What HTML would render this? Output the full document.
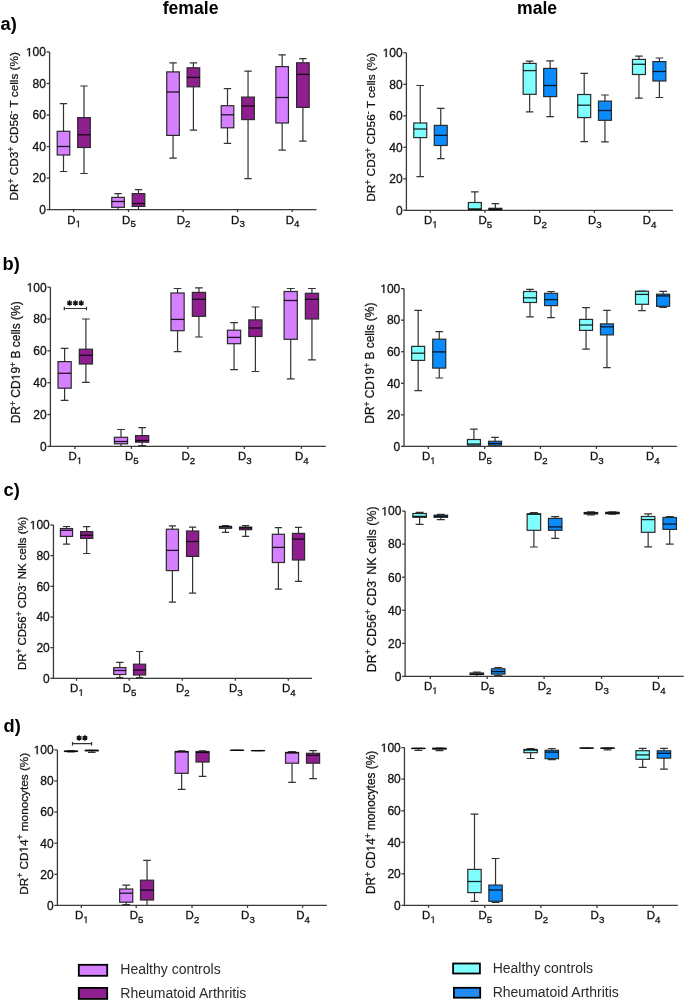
<!DOCTYPE html>
<html><head><meta charset="utf-8"><style>
html,body{margin:0;padding:0;background:#fff;}
body{width:685px;height:1001px;overflow:hidden;}
svg{display:block;}
text{font-family:"Liberation Sans",sans-serif;fill:#111;}
svg{will-change:transform;}
.ax{stroke:#3a3a3a;stroke-width:1.3;fill:none;}
.wk{stroke:#333;stroke-width:1.2;fill:none;}
.bx{stroke:#2a2a2a;stroke-width:1.2;}
.md{stroke:#000;stroke-opacity:0.85;stroke-width:1.3;fill:none;}
.tl{font-size:12px;text-anchor:end;stroke:#111;stroke-width:0.3px;}
.xl{font-size:11.5px;stroke:#111;stroke-width:0.3px;}
.sub{font-size:9.7px;}
.ast{stroke:#111;stroke-width:1.5;fill:none;}
.yl{text-anchor:middle;stroke:#111;stroke-width:0.25px;}
.sup{font-size:8.5px;}
.h1{fill-opacity:0;stroke-opacity:0;}
.ttl{font-size:17.6px;font-weight:bold;text-anchor:middle;fill:#000;}
.pl{font-size:18.3px;font-weight:bold;fill:#000;}
.lg{font-size:14px;fill:#2a2a2a;}
</style></head><body>
<svg width="685" height="1001" viewBox="0 0 685 1001">
<defs><pattern id="dots" width="4" height="4" patternUnits="userSpaceOnUse"><rect width="4" height="4" fill="#148cff"/><rect x="0" y="0" width="1" height="1" fill="#7d8c9c"/><rect x="2" y="2" width="1" height="1" fill="#7d8c9c"/></pattern><path id="one" d="M515 0V-1237L197 -1010V-1180L530 -1409H696V0Z" fill="#111" stroke="#111" stroke-width="50"/></defs>
<text x="190.6" y="14.2" class="ttl">female</text>
<text x="537.1" y="14.0" class="ttl">male</text>
<text x="0.5" y="30" class="pl">a)</text>
<text x="2.5" y="270" class="pl">b)</text>
<text x="3.5" y="496" class="pl">c)</text>
<text x="3.5" y="732" class="pl">d)</text>
<path d="M49.6 52V209.6H316.5" class="ax"/>
<path d="M46.6 209.6H49.6" class="ax"/>
<text x="45.9" y="213.9" class="tl">0</text>
<path d="M46.6 178.08H49.6" class="ax"/>
<text x="45.9" y="182.38" class="tl">20</text>
<path d="M46.6 146.56H49.6" class="ax"/>
<text x="45.9" y="150.86" class="tl">40</text>
<path d="M46.6 115.04H49.6" class="ax"/>
<text x="45.9" y="119.34" class="tl">60</text>
<path d="M46.6 83.52H49.6" class="ax"/>
<text x="45.9" y="87.82" class="tl">80</text>
<path d="M46.6 52H49.6" class="ax"/>
<use href="#one" transform="translate(25.88 56.3) scale(0.005859)"/>
<text x="45.9" y="56.3" class="tl">00</text>
<path d="M73.6 209.6V212.1" class="ax"/>
<text x="67.2" y="223.5" class="xl">D</text>
<use href="#one" transform="translate(75.51 227.3) scale(0.004736)"/>
<path d="M128.5 209.6V212.1" class="ax"/>
<text x="122.1" y="223.5" class="xl">D<tspan dy="3.8" class="sub">5</tspan></text>
<path d="M183.1 209.6V212.1" class="ax"/>
<text x="176.7" y="223.5" class="xl">D<tspan dy="3.8" class="sub">2</tspan></text>
<path d="M237.5 209.6V212.1" class="ax"/>
<text x="231.1" y="223.5" class="xl">D<tspan dy="3.8" class="sub">3</tspan></text>
<path d="M292.2 209.6V212.1" class="ax"/>
<text x="285.8" y="223.5" class="xl">D<tspan dy="3.8" class="sub">4</tspan></text>
<path d="M63.5 103.7V131.3M63.5 155V171.5M59.8 103.7H67.2M59.8 171.5H67.2" class="wk"/>
<rect x="57.2" y="131.3" width="12.6" height="23.7" fill="#D580FF" class="bx"/>
<path d="M57.2 146.5H69.8" class="md"/>
<path d="M84 86V117.6M84 147.5V173.5M80.3 86H87.7M80.3 173.5H87.7" class="wk"/>
<rect x="77.7" y="117.6" width="12.6" height="29.9" fill="#8F1F8F" class="bx"/>
<path d="M77.7 134.8H90.3" class="md"/>
<path d="M118.05 193.6V197.4M118.05 207.3V209.6M114.35 193.6H121.75" class="wk"/>
<rect x="111.75" y="197.4" width="12.6" height="9.9" fill="#D580FF" class="bx"/>
<path d="M111.75 201.5H124.35" class="md"/>
<path d="M138.5 189.6V193.6M138.5 206.4V209.6M134.8 189.6H142.2" class="wk"/>
<rect x="132.2" y="193.6" width="12.6" height="12.8" fill="#8F1F8F" class="bx"/>
<path d="M132.2 203.5H144.8" class="md"/>
<path d="M173.05 62.8V71.9M173.05 135.4V158.2M169.35 62.8H176.75M169.35 158.2H176.75" class="wk"/>
<rect x="166.75" y="71.9" width="12.6" height="63.5" fill="#D580FF" class="bx"/>
<path d="M166.75 92H179.35" class="md"/>
<path d="M193.4 62.8V67.8M193.4 86.8V130.1M189.7 62.8H197.1M189.7 130.1H197.1" class="wk"/>
<rect x="187.1" y="67.8" width="12.6" height="19" fill="#8F1F8F" class="bx"/>
<path d="M187.1 77.4H199.7" class="md"/>
<path d="M227.5 88.7V105.7M227.5 127.8V143.3M223.8 88.7H231.2M223.8 143.3H231.2" class="wk"/>
<rect x="221.2" y="105.7" width="12.6" height="22.1" fill="#D580FF" class="bx"/>
<path d="M221.2 114.8H233.8" class="md"/>
<path d="M248.05 71.1V97.1M248.05 119.6V178.6M244.35 71.1H251.75M244.35 178.6H251.75" class="wk"/>
<rect x="241.75" y="97.1" width="12.6" height="22.5" fill="#8F1F8F" class="bx"/>
<path d="M241.75 106H254.35" class="md"/>
<path d="M282.15 54.9V66.6M282.15 123V150.2M278.45 54.9H285.85M278.45 150.2H285.85" class="wk"/>
<rect x="275.85" y="66.6" width="12.6" height="56.4" fill="#D580FF" class="bx"/>
<path d="M275.85 97.5H288.45" class="md"/>
<path d="M302.9 58.7V62.8M302.9 107.4V141.2M299.2 58.7H306.6M299.2 141.2H306.6" class="wk"/>
<rect x="296.6" y="62.8" width="12.6" height="44.6" fill="#8F1F8F" class="bx"/>
<path d="M296.6 74.4H309.2" class="md"/>
<g transform="translate(18 126.31) rotate(-90)"><text class="yl" id="yl0" style="font-size:11.77px" xml:space="preserve"><tspan dy="0">DR</tspan><tspan dy="-4.4" class="sup">+</tspan><tspan dy="4.4"> CD3</tspan><tspan dy="-4.4" class="sup">+</tspan><tspan dy="4.4"> CD56</tspan><tspan dy="-4.4" class="sup">-</tspan><tspan dy="4.4"> T cells (%)</tspan></text></g>
<path d="M406.4 52.8V210.3H673" class="ax"/>
<path d="M403.4 210.3H406.4" class="ax"/>
<text x="402.7" y="214.6" class="tl">0</text>
<path d="M403.4 178.8H406.4" class="ax"/>
<text x="402.7" y="183.1" class="tl">20</text>
<path d="M403.4 147.3H406.4" class="ax"/>
<text x="402.7" y="151.6" class="tl">40</text>
<path d="M403.4 115.8H406.4" class="ax"/>
<text x="402.7" y="120.1" class="tl">60</text>
<path d="M403.4 84.3H406.4" class="ax"/>
<text x="402.7" y="88.6" class="tl">80</text>
<path d="M403.4 52.8H406.4" class="ax"/>
<use href="#one" transform="translate(382.68 57.1) scale(0.005859)"/>
<text x="402.7" y="57.1" class="tl">00</text>
<path d="M430.3 210.3V212.8" class="ax"/>
<text x="423.9" y="224.2" class="xl">D</text>
<use href="#one" transform="translate(432.21 228) scale(0.004736)"/>
<path d="M484.9 210.3V212.8" class="ax"/>
<text x="478.5" y="224.2" class="xl">D<tspan dy="3.8" class="sub">5</tspan></text>
<path d="M539.7 210.3V212.8" class="ax"/>
<text x="533.3" y="224.2" class="xl">D<tspan dy="3.8" class="sub">2</tspan></text>
<path d="M594.4 210.3V212.8" class="ax"/>
<text x="588" y="224.2" class="xl">D<tspan dy="3.8" class="sub">3</tspan></text>
<path d="M649.1 210.3V212.8" class="ax"/>
<text x="642.7" y="224.2" class="xl">D<tspan dy="3.8" class="sub">4</tspan></text>
<path d="M420.25 85.5V123M420.25 137.6V176.6M416.45 85.5H424.05M416.45 176.6H424.05" class="wk"/>
<rect x="413.77" y="123" width="12.96" height="14.6" fill="#80FFFF" class="bx"/>
<path d="M413.77 129H426.73" class="md"/>
<path d="M440.75 108.3V125.4M440.75 145.5V158.6M436.95 108.3H444.55M436.95 158.6H444.55" class="wk"/>
<rect x="434.27" y="125.4" width="12.96" height="20.1" fill="#0A8CFF" class="bx"/>
<path d="M434.27 135.3H447.23" class="md"/>
<path d="M474.85 191.9V202.5M474.85 209.6V210.3M471.05 191.9H478.65" class="wk"/>
<rect x="468.37" y="202.5" width="12.96" height="7.1" fill="#80FFFF" class="bx"/>
<path d="M468.37 208.9H481.33" class="md"/>
<path d="M495.35 203.6V208.3M495.35 209.8V210.3M491.55 203.6H499.15" class="wk"/>
<rect x="488.87" y="208.3" width="12.96" height="1.5" fill="#0A8CFF" class="bx"/>
<path d="M488.87 209.3H501.83" class="md"/>
<path d="M529.65 61.2V63.4M529.65 94.3V111.9M525.85 61.2H533.45M525.85 111.9H533.45" class="wk"/>
<rect x="523.17" y="63.4" width="12.96" height="30.9" fill="#80FFFF" class="bx"/>
<path d="M523.17 70.6H536.13" class="md"/>
<path d="M550.15 60.9V68.4M550.15 96.6V116.7M546.35 60.9H553.95M546.35 116.7H553.95" class="wk"/>
<rect x="543.67" y="68.4" width="12.96" height="28.2" fill="#0A8CFF" class="bx"/>
<path d="M543.67 85.5H556.63" class="md"/>
<path d="M584.2 73.3V94.5M584.2 117.6V141.6M580.4 73.3H588M580.4 141.6H588" class="wk"/>
<rect x="577.72" y="94.5" width="12.96" height="23.1" fill="#80FFFF" class="bx"/>
<path d="M577.72 105.2H590.68" class="md"/>
<path d="M604.95 95V101.1M604.95 120.3V141.9M601.15 95H608.75M601.15 141.9H608.75" class="wk"/>
<rect x="598.47" y="101.1" width="12.96" height="19.2" fill="#0A8CFF" class="bx"/>
<path d="M598.47 110.5H611.43" class="md"/>
<path d="M638.95 56.2V59.4M638.95 74.5V98.1M635.15 56.2H642.75M635.15 98.1H642.75" class="wk"/>
<rect x="632.47" y="59.4" width="12.96" height="15.1" fill="#80FFFF" class="bx"/>
<path d="M632.47 64.3H645.43" class="md"/>
<path d="M659.4 58V61.6M659.4 81V97.5M655.6 58H663.2M655.6 97.5H663.2" class="wk"/>
<rect x="652.92" y="61.6" width="12.96" height="19.4" fill="#0A8CFF" class="bx"/>
<path d="M652.92 71.5H665.88" class="md"/>
<g transform="translate(374.9 127.23) rotate(-90)"><text class="yl" id="yl1" style="font-size:11.84px" xml:space="preserve"><tspan dy="0">DR</tspan><tspan dy="-4.4" class="sup">+</tspan><tspan dy="4.4"> CD3</tspan><tspan dy="-4.4" class="sup">+</tspan><tspan dy="4.4"> CD56</tspan><tspan dy="-4.4" class="sup">-</tspan><tspan dy="4.4"> T cells (%)</tspan></text></g>
<path d="M50.4 287.2V446.4H325.8" class="ax"/>
<path d="M47.4 446.4H50.4" class="ax"/>
<text x="46.7" y="450.7" class="tl">0</text>
<path d="M47.4 414.56H50.4" class="ax"/>
<text x="46.7" y="418.86" class="tl">20</text>
<path d="M47.4 382.72H50.4" class="ax"/>
<text x="46.7" y="387.02" class="tl">40</text>
<path d="M47.4 350.88H50.4" class="ax"/>
<text x="46.7" y="355.18" class="tl">60</text>
<path d="M47.4 319.04H50.4" class="ax"/>
<text x="46.7" y="323.34" class="tl">80</text>
<path d="M47.4 287.2H50.4" class="ax"/>
<use href="#one" transform="translate(26.68 291.5) scale(0.005859)"/>
<text x="46.7" y="291.5" class="tl">00</text>
<path d="M74.9 446.4V448.9" class="ax"/>
<text x="68.5" y="460.3" class="xl">D</text>
<use href="#one" transform="translate(76.81 464.1) scale(0.004736)"/>
<path d="M131.4 446.4V448.9" class="ax"/>
<text x="125" y="460.3" class="xl">D<tspan dy="3.8" class="sub">5</tspan></text>
<path d="M187.9 446.4V448.9" class="ax"/>
<text x="181.5" y="460.3" class="xl">D<tspan dy="3.8" class="sub">2</tspan></text>
<path d="M244.3 446.4V448.9" class="ax"/>
<text x="237.9" y="460.3" class="xl">D<tspan dy="3.8" class="sub">3</tspan></text>
<path d="M301.4 446.4V448.9" class="ax"/>
<text x="295" y="460.3" class="xl">D<tspan dy="3.8" class="sub">4</tspan></text>
<path d="M64.6 348.3V361.6M64.6 388.2V400.3M60.73 348.3H68.47M60.73 400.3H68.47" class="wk"/>
<rect x="58" y="361.6" width="13.2" height="26.6" fill="#D580FF" class="bx"/>
<path d="M58 373.3H71.2" class="md"/>
<path d="M85.9 319V349.2M85.9 364V382.3M82.03 319H89.77M82.03 382.3H89.77" class="wk"/>
<rect x="79.3" y="349.2" width="13.2" height="14.8" fill="#8F1F8F" class="bx"/>
<path d="M79.3 355.3H92.5" class="md"/>
<path d="M121 429.5V437.3M121 443.8V446.4M117.13 429.5H124.87" class="wk"/>
<rect x="114.4" y="437.3" width="13.2" height="6.5" fill="#D580FF" class="bx"/>
<path d="M114.4 441.5H127.6" class="md"/>
<path d="M142.15 427.6V435.6M142.15 442.2V445.7M138.28 427.6H146.02M138.28 445.7H146.02" class="wk"/>
<rect x="135.55" y="435.6" width="13.2" height="6.6" fill="#8F1F8F" class="bx"/>
<path d="M135.55 440.5H148.75" class="md"/>
<path d="M177.55 288.5V293M177.55 330.7V351.7M173.68 288.5H181.42M173.68 351.7H181.42" class="wk"/>
<rect x="170.95" y="293" width="13.2" height="37.7" fill="#D580FF" class="bx"/>
<path d="M170.95 319.4H184.15" class="md"/>
<path d="M198.95 287.9V292.4M198.95 316.3V337M195.08 287.9H202.82M195.08 337H202.82" class="wk"/>
<rect x="192.35" y="292.4" width="13.2" height="23.9" fill="#8F1F8F" class="bx"/>
<path d="M192.35 299.3H205.55" class="md"/>
<path d="M234.05 322.6V330.2M234.05 343.7V369.7M230.18 322.6H237.92M230.18 369.7H237.92" class="wk"/>
<rect x="227.45" y="330.2" width="13.2" height="13.5" fill="#D580FF" class="bx"/>
<path d="M227.45 337.4H240.65" class="md"/>
<path d="M255.4 307V319.9M255.4 336.5V371.5M251.53 307H259.27M251.53 371.5H259.27" class="wk"/>
<rect x="248.8" y="319.9" width="13.2" height="16.6" fill="#8F1F8F" class="bx"/>
<path d="M248.8 328H262" class="md"/>
<path d="M290.7 288.5V291.5M290.7 339.3V378.9M286.83 288.5H294.57M286.83 378.9H294.57" class="wk"/>
<rect x="284.1" y="291.5" width="13.2" height="47.8" fill="#D580FF" class="bx"/>
<path d="M284.1 300.5H297.3" class="md"/>
<path d="M311.95 288.5V293.3M311.95 319V359.8M308.08 288.5H315.82M308.08 359.8H315.82" class="wk"/>
<rect x="305.35" y="293.3" width="13.2" height="25.7" fill="#8F1F8F" class="bx"/>
<path d="M305.35 299.3H318.55" class="md"/>
<path d="M64.3 306.7V310.3M64.3 308.5H86.5M86.5 306.7V310.3" class="wk"/>
<path d="M69.55 300.25V305.75M67.17 301.62L71.93 304.38M67.17 304.38L71.93 301.62" class="ast"/>
<path d="M75.45 300.25V305.75M73.07 301.62L77.83 304.38M73.07 304.38L77.83 301.62" class="ast"/>
<path d="M81.25 300.25V305.75M78.87 301.62L83.63 304.38M78.87 304.38L83.63 301.62" class="ast"/>
<g transform="translate(19.9 362.25) rotate(-90)"><text class="yl" id="yl2" style="font-size:12.03px" xml:space="preserve"><tspan dy="0">DR</tspan><tspan dy="-4.4" class="sup">+</tspan><tspan dy="4.4"> CD<tspan class="h1">1</tspan>9</tspan><tspan dy="-4.4" class="sup">+</tspan><tspan dy="4.4"> B cells (%)</tspan></text><use href="#one" transform="translate(-18.04 0.00) scale(0.005874)"/></g>
<path d="M404 288.6V446.4H677" class="ax"/>
<path d="M401 446.4H404" class="ax"/>
<text x="400.3" y="450.7" class="tl">0</text>
<path d="M401 414.84H404" class="ax"/>
<text x="400.3" y="419.14" class="tl">20</text>
<path d="M401 383.28H404" class="ax"/>
<text x="400.3" y="387.58" class="tl">40</text>
<path d="M401 351.72H404" class="ax"/>
<text x="400.3" y="356.02" class="tl">60</text>
<path d="M401 320.16H404" class="ax"/>
<text x="400.3" y="324.46" class="tl">80</text>
<path d="M401 288.6H404" class="ax"/>
<use href="#one" transform="translate(380.28 292.9) scale(0.005859)"/>
<text x="400.3" y="292.9" class="tl">00</text>
<path d="M428.3 446.4V448.9" class="ax"/>
<text x="421.9" y="460.3" class="xl">D</text>
<use href="#one" transform="translate(430.21 464.1) scale(0.004736)"/>
<path d="M484.7 446.4V448.9" class="ax"/>
<text x="478.3" y="460.3" class="xl">D<tspan dy="3.8" class="sub">5</tspan></text>
<path d="M540.4 446.4V448.9" class="ax"/>
<text x="534" y="460.3" class="xl">D<tspan dy="3.8" class="sub">2</tspan></text>
<path d="M596.4 446.4V448.9" class="ax"/>
<text x="590" y="460.3" class="xl">D<tspan dy="3.8" class="sub">3</tspan></text>
<path d="M652.3 446.4V448.9" class="ax"/>
<text x="645.9" y="460.3" class="xl">D<tspan dy="3.8" class="sub">4</tspan></text>
<path d="M418.15 310.4V346.4M418.15 360.4V390.6M414.33 310.4H421.97M414.33 390.6H421.97" class="wk"/>
<rect x="411.65" y="346.4" width="13" height="14" fill="#80FFFF" class="bx"/>
<path d="M411.65 353.2H424.65" class="md"/>
<path d="M439.25 331.6V339.2M439.25 368.1V378M435.43 331.6H443.07M435.43 378H443.07" class="wk"/>
<rect x="432.75" y="339.2" width="13" height="28.9" fill="#0A8CFF" class="bx"/>
<path d="M432.75 351.9H445.75" class="md"/>
<path d="M473.95 429.2V439.5M473.95 445.2V446.3M470.13 429.2H477.77" class="wk"/>
<rect x="467.45" y="439.5" width="13" height="5.7" fill="#80FFFF" class="bx"/>
<path d="M467.45 444H480.45" class="md"/>
<path d="M495.05 437.3V441.3M495.05 445.2V446.3M491.23 437.3H498.87" class="wk"/>
<rect x="488.55" y="441.3" width="13" height="3.9" fill="#0A8CFF" class="bx"/>
<path d="M488.55 443.5H501.55" class="md"/>
<path d="M530 289.4V291.5M530 302.5V316.9M526.18 289.4H533.82M526.18 316.9H533.82" class="wk"/>
<rect x="523.5" y="291.5" width="13" height="11" fill="#80FFFF" class="bx"/>
<path d="M523.5 297.8H536.5" class="md"/>
<path d="M551.05 291.5V293.3M551.05 305.6V317.6M547.23 291.5H554.87M547.23 317.6H554.87" class="wk"/>
<rect x="544.55" y="293.3" width="13" height="12.3" fill="#0A8CFF" class="bx"/>
<path d="M544.55 299.6H557.55" class="md"/>
<path d="M586.05 307.7V319.4M586.05 330.4V349.1M582.23 307.7H589.87M582.23 349.1H589.87" class="wk"/>
<rect x="579.55" y="319.4" width="13" height="11" fill="#80FFFF" class="bx"/>
<path d="M579.55 325H592.55" class="md"/>
<path d="M606.95 310.4V323.9M606.95 334.9V367.6M603.13 310.4H610.77M603.13 367.6H610.77" class="wk"/>
<rect x="600.45" y="323.9" width="13" height="11" fill="#0A8CFF" class="bx"/>
<path d="M600.45 326.8H613.45" class="md"/>
<path d="M642 291V291.3M642 304.3V310.6M638.18 291H645.82M638.18 310.6H645.82" class="wk"/>
<rect x="635.5" y="291.3" width="13" height="13" fill="#80FFFF" class="bx"/>
<path d="M635.5 294.4H648.5" class="md"/>
<path d="M663.1 291.4V294.2M663.1 306.3V307.3M659.28 291.4H666.92M659.28 307.3H666.92" class="wk"/>
<rect x="656.6" y="294.2" width="13" height="12.1" fill="#0A8CFF" class="bx"/>
<path d="M656.6 295.9H669.6" class="md"/>
<g transform="translate(373.9 363.16) rotate(-90)"><text class="yl" id="yl3" style="font-size:11.91px" xml:space="preserve"><tspan dy="0">DR</tspan><tspan dy="-4.4" class="sup">+</tspan><tspan dy="4.4"> CD<tspan class="h1">1</tspan>9</tspan><tspan dy="-4.4" class="sup">+</tspan><tspan dy="4.4"> B cells (%)</tspan></text><use href="#one" transform="translate(-17.87 0.00) scale(0.005815)"/></g>
<path d="M53.45 525V678.3H312" class="ax"/>
<path d="M50.45 678.3H53.45" class="ax"/>
<text x="49.75" y="682.6" class="tl">0</text>
<path d="M50.45 647.64H53.45" class="ax"/>
<text x="49.75" y="651.94" class="tl">20</text>
<path d="M50.45 616.98H53.45" class="ax"/>
<text x="49.75" y="621.28" class="tl">40</text>
<path d="M50.45 586.32H53.45" class="ax"/>
<text x="49.75" y="590.62" class="tl">60</text>
<path d="M50.45 555.66H53.45" class="ax"/>
<text x="49.75" y="559.96" class="tl">80</text>
<path d="M50.45 525H53.45" class="ax"/>
<use href="#one" transform="translate(29.73 529.3) scale(0.005859)"/>
<text x="49.75" y="529.3" class="tl">00</text>
<path d="M76.5 678.3V680.8" class="ax"/>
<text x="70.1" y="692.2" class="xl">D</text>
<use href="#one" transform="translate(78.41 696) scale(0.004736)"/>
<path d="M129.1 678.3V680.8" class="ax"/>
<text x="122.7" y="692.2" class="xl">D<tspan dy="3.8" class="sub">5</tspan></text>
<path d="M182.3 678.3V680.8" class="ax"/>
<text x="175.9" y="692.2" class="xl">D<tspan dy="3.8" class="sub">2</tspan></text>
<path d="M235.3 678.3V680.8" class="ax"/>
<text x="228.9" y="692.2" class="xl">D<tspan dy="3.8" class="sub">3</tspan></text>
<path d="M288.3 678.3V680.8" class="ax"/>
<text x="281.9" y="692.2" class="xl">D<tspan dy="3.8" class="sub">4</tspan></text>
<path d="M66.5 526.5V528.5M66.5 536.4V544.2M62.93 526.5H70.07M62.93 544.2H70.07" class="wk"/>
<rect x="60.42" y="528.5" width="12.15" height="7.9" fill="#D580FF" class="bx"/>
<path d="M60.42 530.3H72.58" class="md"/>
<path d="M86.7 526.7V531.6M86.7 538.4V553.5M83.13 526.7H90.27M83.13 553.5H90.27" class="wk"/>
<rect x="80.62" y="531.6" width="12.15" height="6.8" fill="#8F1F8F" class="bx"/>
<path d="M80.62 535.2H92.78" class="md"/>
<path d="M119.8 662.4V667.6M119.8 674.5V677.5M116.23 662.4H123.37M116.23 677.5H123.37" class="wk"/>
<rect x="113.72" y="667.6" width="12.15" height="6.9" fill="#D580FF" class="bx"/>
<path d="M113.72 670.5H125.88" class="md"/>
<path d="M139.55 651.5V664.2M139.55 675V677.5M135.98 651.5H143.12M135.98 677.5H143.12" class="wk"/>
<rect x="133.48" y="664.2" width="12.15" height="10.8" fill="#8F1F8F" class="bx"/>
<path d="M133.48 670H145.62" class="md"/>
<path d="M172.4 525.8V529.2M172.4 570.6V602.2M168.83 525.8H175.97M168.83 602.2H175.97" class="wk"/>
<rect x="166.33" y="529.2" width="12.15" height="41.4" fill="#D580FF" class="bx"/>
<path d="M166.33 550.4H178.47" class="md"/>
<path d="M192.6 527.1V531M192.6 556.4V593.2M189.03 527.1H196.17M189.03 593.2H196.17" class="wk"/>
<rect x="186.53" y="531" width="12.15" height="25.4" fill="#8F1F8F" class="bx"/>
<path d="M186.53 541.5H198.67" class="md"/>
<path d="M225.5 525.6V526.4M225.5 528.3V532.3M221.93 525.6H229.07M221.93 532.3H229.07" class="wk"/>
<rect x="219.43" y="526.4" width="12.15" height="1.9" fill="#D580FF" class="bx"/>
<path d="M219.43 527H231.57" class="md"/>
<path d="M245.6 525.6V527.1M245.6 529.7V536.4M242.03 525.6H249.17M242.03 536.4H249.17" class="wk"/>
<rect x="239.53" y="527.1" width="12.15" height="2.6" fill="#8F1F8F" class="bx"/>
<path d="M239.53 527.9H251.67" class="md"/>
<path d="M278.4 527.6V534.3M278.4 562.5V589.1M274.83 527.6H281.97M274.83 589.1H281.97" class="wk"/>
<rect x="272.32" y="534.3" width="12.15" height="28.2" fill="#D580FF" class="bx"/>
<path d="M272.32 547.4H284.47" class="md"/>
<path d="M298.5 527.4V533.4M298.5 560V581.4M294.93 527.4H302.07M294.93 581.4H302.07" class="wk"/>
<rect x="292.43" y="533.4" width="12.15" height="26.6" fill="#8F1F8F" class="bx"/>
<path d="M292.43 539.1H304.57" class="md"/>
<g transform="translate(25.9 593.34) rotate(-90)"><text class="yl" id="yl4" style="font-size:11.42px" xml:space="preserve"><tspan dy="0">DR</tspan><tspan dy="-4.4" class="sup">+</tspan><tspan dy="4.4"> CD56</tspan><tspan dy="-4.4" class="sup">+</tspan><tspan dy="4.4"> CD3</tspan><tspan dy="-4.4" class="sup">-</tspan><tspan dy="4.4"> NK cells (%)</tspan></text></g>
<path d="M405.1 511.1V676.4H683.7" class="ax"/>
<path d="M402.1 676.4H405.1" class="ax"/>
<text x="401.4" y="680.7" class="tl">0</text>
<path d="M402.1 643.34H405.1" class="ax"/>
<text x="401.4" y="647.64" class="tl">20</text>
<path d="M402.1 610.28H405.1" class="ax"/>
<text x="401.4" y="614.58" class="tl">40</text>
<path d="M402.1 577.22H405.1" class="ax"/>
<text x="401.4" y="581.52" class="tl">60</text>
<path d="M402.1 544.16H405.1" class="ax"/>
<text x="401.4" y="548.46" class="tl">80</text>
<path d="M402.1 511.1H405.1" class="ax"/>
<use href="#one" transform="translate(381.38 515.4) scale(0.005859)"/>
<text x="401.4" y="515.4" class="tl">00</text>
<path d="M430.3 676.4V678.9" class="ax"/>
<text x="423.9" y="690.3" class="xl">D</text>
<use href="#one" transform="translate(432.21 694.1) scale(0.004736)"/>
<path d="M487.2 676.4V678.9" class="ax"/>
<text x="480.8" y="690.3" class="xl">D<tspan dy="3.8" class="sub">5</tspan></text>
<path d="M544.1 676.4V678.9" class="ax"/>
<text x="537.7" y="690.3" class="xl">D<tspan dy="3.8" class="sub">2</tspan></text>
<path d="M601.5 676.4V678.9" class="ax"/>
<text x="595.1" y="690.3" class="xl">D<tspan dy="3.8" class="sub">3</tspan></text>
<path d="M658.4 676.4V678.9" class="ax"/>
<text x="652" y="690.3" class="xl">D<tspan dy="3.8" class="sub">4</tspan></text>
<path d="M419.6 512.4V513.5M419.6 517.3V524.3M415.64 512.4H423.56M415.64 524.3H423.56" class="wk"/>
<rect x="412.85" y="513.5" width="13.5" height="3.8" fill="#80FFFF" class="bx"/>
<path d="M412.85 516.4H426.35" class="md"/>
<path d="M440.8 514.3V515.2M440.8 517.3V519.6M436.84 514.3H444.76M436.84 519.6H444.76" class="wk"/>
<rect x="434.05" y="515.2" width="13.5" height="2.1" fill="#0A8CFF" class="bx"/>
<path d="M434.05 516.3H447.55" class="md"/>
<path d="M476.8 672.2V673M476.8 674.5V676M472.84 672.2H480.76" class="wk"/>
<rect x="470.05" y="673" width="13.5" height="1.5" fill="#80FFFF" class="bx"/>
<path d="M470.05 674H483.55" class="md"/>
<path d="M498.2 667.5V668.8M498.2 674.1V675.6M494.24 667.5H502.16M494.24 675.6H502.16" class="wk"/>
<rect x="491.45" y="668.8" width="13.5" height="5.3" fill="#0A8CFF" class="bx"/>
<path d="M491.45 671.6H504.95" class="md"/>
<path d="M533.9 512.7V513.8M533.9 530.3V547M529.94 512.7H537.86M529.94 547H537.86" class="wk"/>
<rect x="527.15" y="513.8" width="13.5" height="16.5" fill="#80FFFF" class="bx"/>
<path d="M527.15 514.2H540.65" class="md"/>
<path d="M555.2 516.7V518.4M555.2 530.3V538.3M551.24 516.7H559.16M551.24 538.3H559.16" class="wk"/>
<rect x="548.45" y="518.4" width="13.5" height="11.9" fill="#0A8CFF" class="bx"/>
<path d="M548.45 526.9H561.95" class="md"/>
<path d="M590.9 511.8V512.5M590.9 514V514.8M586.94 511.8H594.86M586.94 514.8H594.86" class="wk"/>
<rect x="584.15" y="512.5" width="13.5" height="1.5" fill="#80FFFF" class="bx"/>
<path d="M584.15 513.2H597.65" class="md"/>
<path d="M612.45 511.8V512.3M612.45 513.7V514.2M608.49 511.8H616.41M608.49 514.2H616.41" class="wk"/>
<rect x="605.7" y="512.3" width="13.5" height="1.4" fill="#0A8CFF" class="bx"/>
<path d="M605.7 513H619.2" class="md"/>
<path d="M648.15 513.9V516.5M648.15 532.3V546.9M644.19 513.9H652.11M644.19 546.9H652.11" class="wk"/>
<rect x="641.4" y="516.5" width="13.5" height="15.8" fill="#80FFFF" class="bx"/>
<path d="M641.4 519.6H654.9" class="md"/>
<path d="M669.7 516.5V517.5M669.7 529.4V544.2M665.74 516.5H673.66M665.74 544.2H673.66" class="wk"/>
<rect x="662.95" y="517.5" width="13.5" height="11.9" fill="#0A8CFF" class="bx"/>
<path d="M662.95 524.1H676.45" class="md"/>
<g transform="translate(375.7 589.35) rotate(-90)"><text class="yl" id="yl5" style="font-size:12.42px" xml:space="preserve"><tspan dy="0">DR</tspan><tspan dy="-4.4" class="sup">+</tspan><tspan dy="4.4"> CD56</tspan><tspan dy="-4.4" class="sup">+</tspan><tspan dy="4.4"> CD3</tspan><tspan dy="-4.4" class="sup">-</tspan><tspan dy="4.4"> NK cells (%)</tspan></text></g>
<path d="M57.4 749.9V905.4H326.9" class="ax"/>
<path d="M54.4 905.4H57.4" class="ax"/>
<text x="53.7" y="909.7" class="tl">0</text>
<path d="M54.4 874.3H57.4" class="ax"/>
<text x="53.7" y="878.6" class="tl">20</text>
<path d="M54.4 843.2H57.4" class="ax"/>
<text x="53.7" y="847.5" class="tl">40</text>
<path d="M54.4 812.1H57.4" class="ax"/>
<text x="53.7" y="816.4" class="tl">60</text>
<path d="M54.4 781H57.4" class="ax"/>
<text x="53.7" y="785.3" class="tl">80</text>
<path d="M54.4 749.9H57.4" class="ax"/>
<use href="#one" transform="translate(33.68 754.2) scale(0.005859)"/>
<text x="53.7" y="754.2" class="tl">00</text>
<path d="M81.3 905.4V907.9" class="ax"/>
<text x="74.9" y="919.3" class="xl">D</text>
<use href="#one" transform="translate(83.21 923.1) scale(0.004736)"/>
<path d="M136.2 905.4V907.9" class="ax"/>
<text x="129.8" y="919.3" class="xl">D<tspan dy="3.8" class="sub">5</tspan></text>
<path d="M192 905.4V907.9" class="ax"/>
<text x="185.6" y="919.3" class="xl">D<tspan dy="3.8" class="sub">2</tspan></text>
<path d="M247.5 905.4V907.9" class="ax"/>
<text x="241.1" y="919.3" class="xl">D<tspan dy="3.8" class="sub">3</tspan></text>
<path d="M302.6 905.4V907.9" class="ax"/>
<text x="296.2" y="919.3" class="xl">D<tspan dy="3.8" class="sub">4</tspan></text>
<path d="M71 750.7V751.1M71 751.5V752M67.16 750.7H74.84M67.16 752H74.84" class="wk"/>
<rect x="64.45" y="751.1" width="13.1" height="0.4" fill="#D580FF" class="bx"/>
<path d="M64.45 751.3H77.55" class="md"/>
<path d="M91.75 750.8V752.4M87.91 750.3H95.59M87.91 752.4H95.59" class="wk"/>
<rect x="85.2" y="750.3" width="13.1" height="0.5" fill="#8F1F8F" class="bx"/>
<path d="M85.2 750.5H98.3" class="md"/>
<path d="M126.2 885.1V889M126.2 902.2V904.5M122.36 885.1H130.04M122.36 904.5H130.04" class="wk"/>
<rect x="119.65" y="889" width="13.1" height="13.2" fill="#D580FF" class="bx"/>
<path d="M119.65 893.2H132.75" class="md"/>
<path d="M147.05 860.3V880.2M147.05 900V905M143.21 860.3H150.89" class="wk"/>
<rect x="140.5" y="880.2" width="13.1" height="19.8" fill="#8F1F8F" class="bx"/>
<path d="M140.5 890.1H153.6" class="md"/>
<path d="M181.65 750.8V751.5M181.65 773.3V789.3M177.81 750.8H185.49M177.81 789.3H185.49" class="wk"/>
<rect x="175.1" y="751.5" width="13.1" height="21.8" fill="#D580FF" class="bx"/>
<path d="M175.1 752H188.2" class="md"/>
<path d="M202.55 750.8V751.5M202.55 762V776.3M198.71 750.8H206.39M198.71 776.3H206.39" class="wk"/>
<rect x="196" y="751.5" width="13.1" height="10.5" fill="#8F1F8F" class="bx"/>
<path d="M196 752.5H209.1" class="md"/>
<path d="M233.16 750.3H240.84M233.16 750.3H240.84" class="wk"/>
<rect x="230.45" y="750.3" width="13.1" height="0.01" fill="#D580FF" class="bx"/>
<path d="M230.45 750.3H243.55" class="md"/>
<path d="M254.11 750.6H261.79M254.11 750.6H261.79" class="wk"/>
<rect x="251.4" y="750.6" width="13.1" height="0.01" fill="#8F1F8F" class="bx"/>
<path d="M251.4 750.6H264.5" class="md"/>
<path d="M292.05 751.5V752.4M292.05 763.2V782.3M288.21 751.5H295.89M288.21 782.3H295.89" class="wk"/>
<rect x="285.5" y="752.4" width="13.1" height="10.8" fill="#D580FF" class="bx"/>
<path d="M285.5 753H298.6" class="md"/>
<path d="M313.05 750.6V753.3M313.05 763.2V778.7M309.21 750.6H316.89M309.21 778.7H316.89" class="wk"/>
<rect x="306.5" y="753.3" width="13.1" height="9.9" fill="#8F1F8F" class="bx"/>
<path d="M306.5 755.3H319.6" class="md"/>
<path d="M72.5 741.9V745.5M72.5 743.7H91.6M91.6 741.9V745.5" class="wk"/>
<path d="M79.1 735.15V740.65M76.72 736.52L81.48 739.27M76.72 739.27L81.48 736.52" class="ast"/>
<path d="M84.9 735.15V740.65M82.52 736.52L87.28 739.27M82.52 739.27L87.28 736.52" class="ast"/>
<g transform="translate(27.8 823.78) rotate(-90)"><text class="yl" id="yl6" style="font-size:11.75px" xml:space="preserve"><tspan dy="0">DR</tspan><tspan dy="-4.4" class="sup">+</tspan><tspan dy="4.4"> CD<tspan class="h1">1</tspan>4</tspan><tspan dy="-4.4" class="sup">+</tspan><tspan dy="4.4"> monocytes (%)</tspan></text><use href="#one" transform="translate(-28.74 0.00) scale(0.005737)"/></g>
<path d="M404.45 747.6V905.4H677.8" class="ax"/>
<path d="M401.45 905.4H404.45" class="ax"/>
<text x="400.75" y="909.7" class="tl">0</text>
<path d="M401.45 873.84H404.45" class="ax"/>
<text x="400.75" y="878.14" class="tl">20</text>
<path d="M401.45 842.28H404.45" class="ax"/>
<text x="400.75" y="846.58" class="tl">40</text>
<path d="M401.45 810.72H404.45" class="ax"/>
<text x="400.75" y="815.02" class="tl">60</text>
<path d="M401.45 779.16H404.45" class="ax"/>
<text x="400.75" y="783.46" class="tl">80</text>
<path d="M401.45 747.6H404.45" class="ax"/>
<use href="#one" transform="translate(380.73 751.9) scale(0.005859)"/>
<text x="400.75" y="751.9" class="tl">00</text>
<path d="M428.5 905.4V907.9" class="ax"/>
<text x="422.1" y="919.3" class="xl">D</text>
<use href="#one" transform="translate(430.41 923.1) scale(0.004736)"/>
<path d="M484.8 905.4V907.9" class="ax"/>
<text x="478.4" y="919.3" class="xl">D<tspan dy="3.8" class="sub">5</tspan></text>
<path d="M540.9 905.4V907.9" class="ax"/>
<text x="534.5" y="919.3" class="xl">D<tspan dy="3.8" class="sub">2</tspan></text>
<path d="M597 905.4V907.9" class="ax"/>
<text x="590.6" y="919.3" class="xl">D<tspan dy="3.8" class="sub">3</tspan></text>
<path d="M653.2 905.4V907.9" class="ax"/>
<text x="646.8" y="919.3" class="xl">D<tspan dy="3.8" class="sub">4</tspan></text>
<path d="M418.35 748.5V750.4M414.42 748.4H422.28M414.42 750.4H422.28" class="wk"/>
<rect x="411.65" y="748.4" width="13.4" height="0.1" fill="#80FFFF" class="bx"/>
<path d="M411.65 748.4H425.05" class="md"/>
<path d="M439.45 749.1V750.6M435.52 748.1H443.38M435.52 750.6H443.38" class="wk"/>
<rect x="432.75" y="748.2" width="13.4" height="0.9" fill="#0A8CFF" class="bx"/>
<path d="M432.75 748.6H446.15" class="md"/>
<path d="M474.5 814.1V869.4M474.5 892.6V901.3M470.57 814.1H478.43M470.57 901.3H478.43" class="wk"/>
<rect x="467.8" y="869.4" width="13.4" height="23.2" fill="#80FFFF" class="bx"/>
<path d="M467.8 881.5H481.2" class="md"/>
<path d="M495.55 858.5V885.1M495.55 901.3V902.5M491.62 858.5H499.48M491.62 902.5H499.48" class="wk"/>
<rect x="488.85" y="885.1" width="13.4" height="16.2" fill="#0A8CFF" class="bx"/>
<path d="M488.85 890H502.25" class="md"/>
<path d="M530.6 748.5V749.5M530.6 752.7V758.5M526.67 748.5H534.53M526.67 758.5H534.53" class="wk"/>
<rect x="523.9" y="749.5" width="13.4" height="3.2" fill="#80FFFF" class="bx"/>
<path d="M523.9 750.1H537.3" class="md"/>
<path d="M551.8 748.5V750.3M551.8 758.7V759.6M547.87 748.5H555.73M547.87 759.6H555.73" class="wk"/>
<rect x="545.1" y="750.3" width="13.4" height="8.4" fill="#0A8CFF" class="bx"/>
<path d="M545.1 752.1H558.5" class="md"/>
<path d="M582.72 748.1H590.58M582.72 748.1H590.58" class="wk"/>
<rect x="579.95" y="748.1" width="13.4" height="0.01" fill="#80FFFF" class="bx"/>
<path d="M579.95 748.1H593.35" class="md"/>
<path d="M607.55 748.3V749.9M603.62 748.1H611.48M603.62 749.9H611.48" class="wk"/>
<rect x="600.85" y="748.1" width="13.4" height="0.2" fill="#0A8CFF" class="bx"/>
<path d="M600.85 748.2H614.25" class="md"/>
<path d="M642.65 748.4V750.7M642.65 759.3V767.3M638.72 748.4H646.58M638.72 767.3H646.58" class="wk"/>
<rect x="635.95" y="750.7" width="13.4" height="8.6" fill="#80FFFF" class="bx"/>
<path d="M635.95 754.9H649.35" class="md"/>
<path d="M663.95 748.4V750.8M663.95 758.1V769.1M660.02 748.4H667.88M660.02 769.1H667.88" class="wk"/>
<rect x="657.25" y="750.8" width="13.4" height="7.3" fill="#0A8CFF" class="bx"/>
<path d="M657.25 753.3H670.65" class="md"/>
<g transform="translate(374.9 822.41) rotate(-90)"><text class="yl" id="yl7" style="font-size:11.87px" xml:space="preserve"><tspan dy="0">DR</tspan><tspan dy="-4.4" class="sup">+</tspan><tspan dy="4.4"> CD<tspan class="h1">1</tspan>4</tspan><tspan dy="-4.4" class="sup">+</tspan><tspan dy="4.4"> monocytes (%)</tspan></text><use href="#one" transform="translate(-29.02 0.00) scale(0.005796)"/></g>
<rect x="78.8" y="964.8" width="28.4" height="11" fill="#D580FF" stroke="#000" stroke-width="1.8"/>
<rect x="78.8" y="987.9" width="28.4" height="11" fill="#8F1F8F" stroke="#000" stroke-width="1.8"/>
<text x="120.3" y="973.9" class="lg">Healthy controls</text>
<text x="120.3" y="998.4" class="lg">Rheumatoid Arthritis</text>
<rect x="453.1" y="963.5" width="26.8" height="10.0" fill="#80FFFF" stroke="#000" stroke-width="1.8"/>
<rect x="453.9" y="987.8" width="26.3" height="9.9" fill="url(#dots)" stroke="#000" stroke-width="1.8"/>
<text x="492.7" y="973.3" class="lg">Healthy controls</text>
<text x="492.7" y="996.7" class="lg">Rheumatoid Arthritis</text>
</svg>
</body></html>
